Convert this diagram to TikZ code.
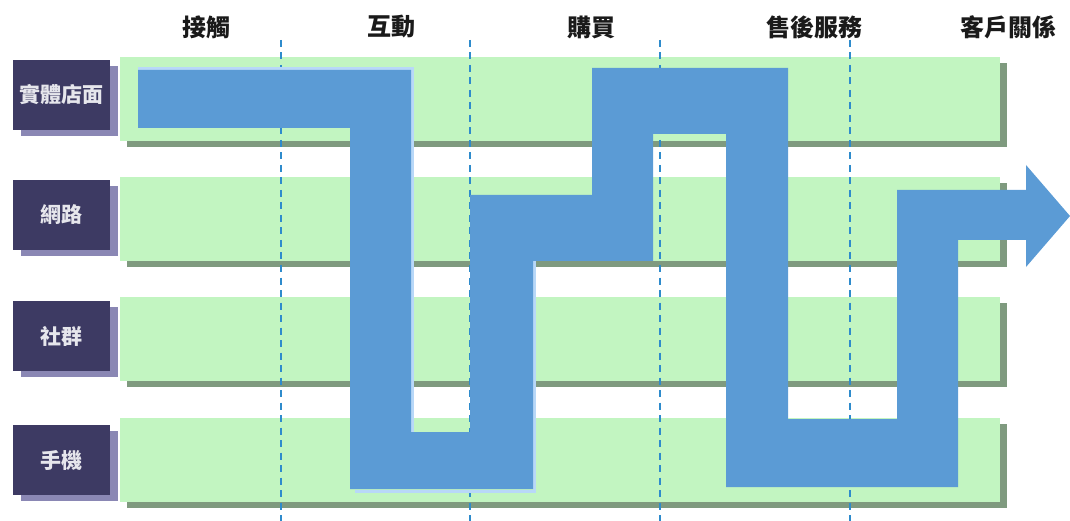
\documentclass[tikz,border=0pt]{standalone}
\usepackage{fontspec}
\newfontfamily\cjk{Noto Sans CJK TC}
\definecolor{lanegreen}{HTML}{C2F5C1}
\definecolor{laneshadow}{HTML}{7F9A7F}
\definecolor{boxnavy}{HTML}{3D3A63}
\definecolor{boxshadow}{HTML}{8A87B4}
\definecolor{flowblue}{HTML}{5B9BD5}
\definecolor{flowlight}{HTML}{B8D8F8}
\definecolor{dashblue}{HTML}{2E8BCC}
\definecolor{labeltext}{HTML}{E6E6EC}
\definecolor{headtext}{HTML}{1A1A1A}
\begin{document}
\begin{tikzpicture}[x=1pt,y=-1pt,
  lane/.style={fill=lanegreen,draw=none,minimum width=880pt,minimum height=84pt,inner sep=0pt,anchor=north west},
  labelbox/.style={fill=boxnavy,draw=none,minimum width=97pt,minimum height=70pt,inner sep=0pt,
    text=labeltext,font=\cjk\bfseries\fontsize{21}{21}\selectfont},
  head/.style={text=headtext,font=\cjk\bfseries\fontsize{24}{24}\selectfont,inner sep=0pt},
  dashline/.style={draw=dashblue,line width=2.2pt,dash pattern=on 7pt off 5.5pt},
  flow/.style={fill=flowblue,draw=none},
  flowedge/.style={draw=flowlight,line width=3pt}]
\useasboundingbox (0,0) rectangle (1070,521);
% lanes with shadows and label boxes
\foreach \i/\y/\c/\t in {1/57/95/實體店面, 2/177/215/網路, 3/297/336/社群, 4/418/460/手機} {
  \fill[laneshadow] (127,\y+6) rectangle (1007,\y+90);
  \node[lane] (lane\i) at (120,\y) {};
  \fill[boxshadow] (20.5,\c-29) rectangle (117.5,\c+41);
  \node[labelbox] (box\i) at (61.5,\c) {\t};
}
% dashed stage separators
\foreach \x in {281,470,660,850} {
  \draw[dashline] (\x,40) -- (\x,521);
}
% headers
\node[head] (h1) at (206,27) {接觸};
\node[head] (h2) at (391,27) {互動};
\node[head] (h3) at (591,27) {購買};
\node[head] (h4) at (814,27) {售後服務};
\node[head] (h5) at (1008,27) {客戶關係};
% light highlight edges
\draw[flowedge] (138,69) -- (412.5,69) -- (412.5,432);
\draw[flowedge] (355,491) -- (534.5,491) -- (534.5,261);
% flow band
\fill[flow] (138,70) -- (411,70) -- (411,432) -- (470,432) -- (470,195) -- (592,195)
  -- (592,68) -- (788,68) -- (788,419) -- (897,419) -- (897,190) -- (1026,190)
  -- (1026,165) -- (1070,216) -- (1026,267) -- (1026,240) -- (958,240) -- (958,487)
  -- (726,487) -- (726,134) -- (653,134) -- (653,261) -- (533,261) -- (533,489)
  -- (350,489) -- (350,128) -- (138,128) -- cycle;
\end{tikzpicture}
\end{document}
